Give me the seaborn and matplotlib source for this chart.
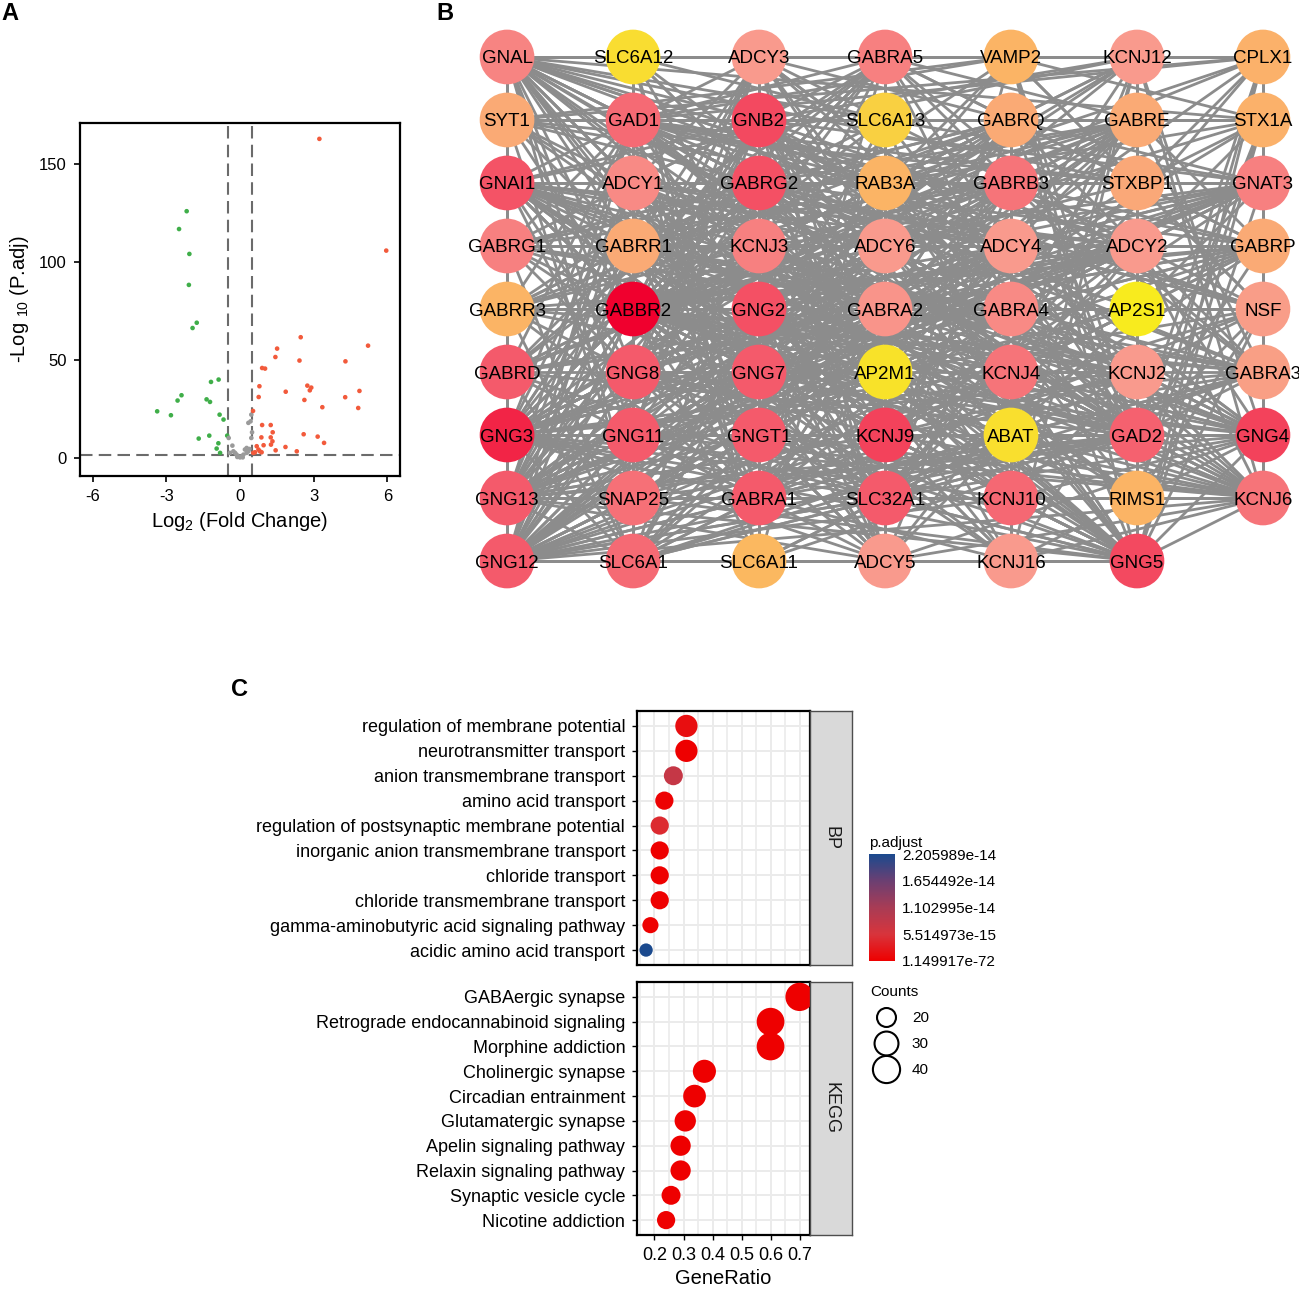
import numpy as np
import pandas as pd
import seaborn as sns
import matplotlib.pyplot as plt
from itertools import combinations
from matplotlib.colors import LinearSegmentedColormap, Normalize
from matplotlib.collections import LineCollection
from matplotlib.cm import ScalarMappable
from matplotlib.lines import Line2D

sns.set_theme(style="white")
plt.rcParams["font.family"] = ["Liberation Sans", "DejaVu Sans"]
plt.rcParams.update({
    "text.color": "black", "axes.labelcolor": "black",
    "xtick.color": "black", "ytick.color": "black",
    "axes.edgecolor": "black",
    "mathtext.fontset": "custom", "mathtext.rm": "Liberation Sans",
    "mathtext.it": "Liberation Sans:italic", "mathtext.default": "regular",
})

# ---------------- A: volcano data ----------------
down_lfc = [-2.17, -2.48, -2.06, -2.08, -1.76, -1.93, -0.87, -1.18, -2.38, -2.54, -1.36,
            -1.22, -3.37, -2.81, -0.83, -0.67, -1.25, -0.52, -1.68, -0.88, -0.95, -0.81]
down_p = [125.9, 116.8, 104.1, 88.3, 69.0, 66.3, 40.0, 38.8, 32.0, 29.3, 29.9,
          28.6, 23.8, 21.8, 22.1, 19.6, 11.4, 11.4, 9.9, 7.5, 4.8, 2.6]
up_lfc = [3.23, 5.95, 2.47, 5.21, 1.51, 1.44, 2.42, 4.29, 0.90, 1.02, 0.79, 2.74, 2.90, 2.84,
          1.86, 4.86, 0.76, 4.28, 2.62, 3.35, 4.81, 0.53, 0.90, 1.25, 1.33, 2.59, 0.87, 1.25,
          3.16, 1.32, 3.42, 0.96, 1.26, 1.85, 0.68, 1.45, 2.31, 0.75, 0.81, 0.61, 0.88, 0.54]
up_p = [162.8, 105.8, 61.6, 57.3, 55.8, 51.5, 49.7, 49.3, 45.9, 45.6, 36.6, 36.9, 35.9, 34.5,
        33.8, 34.2, 31.1, 31.0, 29.6, 25.9, 25.5, 24.0, 16.8, 16.8, 13.1, 12.1, 10.5, 10.5,
        10.9, 8.5, 7.7, 6.5, 6.8, 5.6, 6.0, 3.9, 3.4, 4.3, 3.4, 2.9, 2.9, 2.6]
ns_lfc = [0.46, 0.43, 0.34, 0.49, 0.46, -0.46, -0.31, 0.27, 0.20, 0.38, -0.20, -0.07, 0.0,
          0.07, 0.14, -0.14, -0.27, -0.41, 0.27, 0.34, -0.11, 0.11]
ns_p = [22.1, 18.7, 17.9, 13.1, 10.2, 10.2, 6.3, 5.1, 4.3, 4.6, 2.6, 0.9, 0.3,
        0.9, 1.7, 1.7, 3.4, 2.6, 2.6, 3.4, 0.5, 0.3]

# ---------------- B: network data ----------------
genes = ["GNAL", "SLC6A12", "ADCY3", "GABRA5", "VAMP2", "KCNJ12", "CPLX1",
         "SYT1", "GAD1", "GNB2", "SLC6A13", "GABRQ", "GABRE", "STX1A",
         "GNAI1", "ADCY1", "GABRG2", "RAB3A", "GABRB3", "STXBP1", "GNAT3",
         "GABRG1", "GABRR1", "KCNJ3", "ADCY6", "ADCY4", "ADCY2", "GABRP",
         "GABRR3", "GABBR2", "GNG2", "GABRA2", "GABRA4", "AP2S1", "NSF",
         "GABRD", "GNG8", "GNG7", "AP2M1", "KCNJ4", "KCNJ2", "GABRA3",
         "GNG3", "GNG11", "GNGT1", "KCNJ9", "ABAT", "GAD2", "GNG4",
         "GNG13", "SNAP25", "GABRA1", "SLC32A1", "KCNJ10", "RIMS1", "KCNJ6",
         "GNG12", "SLC6A1", "SLC6A11", "ADCY5", "KCNJ16", "GNG5"]
scores = [0.62, 0.08, 0.55, 0.63, 0.30, 0.55, 0.33,
          0.40, 0.70, 0.80, 0.15, 0.40, 0.40, 0.33,
          0.77, 0.60, 0.78, 0.30, 0.67, 0.42, 0.63,
          0.63, 0.40, 0.63, 0.55, 0.55, 0.55, 0.40,
          0.30, 1.00, 0.78, 0.57, 0.60, 0.00, 0.52,
          0.75, 0.75, 0.75, 0.05, 0.67, 0.55, 0.50,
          0.90, 0.75, 0.75, 0.82, 0.07, 0.73, 0.82,
          0.75, 0.68, 0.75, 0.75, 0.71, 0.30, 0.67,
          0.75, 0.70, 0.28, 0.55, 0.55, 0.80]
# interaction modules (every pair inside a module is an edge)
gprotein = ["GNAL", "GNB2", "GNAI1", "GNAT3", "GNG2", "GNG3", "GNG4", "GNG5", "GNG7", "GNG8",
            "GNG11", "GNG12", "GNG13", "GNGT1", "ADCY1", "ADCY2", "ADCY3", "ADCY4", "ADCY5",
            "ADCY6", "GABBR2", "KCNJ3", "KCNJ6", "KCNJ9"]
gaba_rec = ["GABRA1", "GABRA2", "GABRA3", "GABRA4", "GABRA5", "GABRB3", "GABRG1", "GABRG2",
            "GABRD", "GABRE", "GABRQ", "GABRP", "GABRR1", "GABRR3", "GABBR2", "GAD1", "GAD2",
            "SLC6A1", "SLC32A1", "GNG3", "GNG12", "GNG13"]
vesicle = ["SYT1", "VAMP2", "STX1A", "STXBP1", "SNAP25", "CPLX1", "RAB3A", "RIMS1", "NSF",
           "SLC32A1", "GAD1", "GAD2", "GABBR2", "GNG5", "GNAL"]
kir = ["KCNJ2", "KCNJ3", "KCNJ4", "KCNJ6", "KCNJ9", "KCNJ10", "KCNJ12", "KCNJ16", "GNB2",
       "GNG2", "GNG3", "GNG4", "GNG5", "GNG12", "GNAI1", "GABBR2"]
transport = ["SLC6A1", "SLC6A11", "SLC6A12", "SLC6A13", "ABAT", "GAD1", "GAD2", "SLC32A1",
             "GABRA1", "GABRG2", "GABBR2"]
endocytosis = ["AP2M1", "AP2S1", "GABRA1", "GABRB3", "GABRG2", "GABRA2", "NSF", "GABBR2"]
modules = [gprotein, gaba_rec, vesicle, kir, transport, endocytosis]

# ---------------- C: enrichment data ----------------
bp_terms = ["regulation of membrane potential", "neurotransmitter transport",
            "anion transmembrane transport", "amino acid transport",
            "regulation of postsynaptic membrane potential",
            "inorganic anion transmembrane transport", "chloride transport",
            "chloride transmembrane transport", "gamma-aminobutyric acid signaling pathway",
            "acidic amino acid transport"]
bp_ratio = [0.31, 0.31, 0.265, 0.234, 0.218, 0.218, 0.218, 0.218, 0.186, 0.171]
bp_count = [26, 26, 20, 19, 19, 19, 19, 19, 17, 16]
bp_padj = [1.5e-15, 1.0e-17, 7.7e-15, 3.0e-16, 4.4e-15, 1.0e-17, 1.0e-17, 1.0e-17,
           1.0e-16, 2.205989e-14]
kegg_terms = ["GABAergic synapse", "Retrograde endocannabinoid signaling", "Morphine addiction",
              "Cholinergic synapse", "Circadian entrainment", "Glutamatergic synapse",
              "Apelin signaling pathway", "Relaxin signaling pathway", "Synaptic vesicle cycle",
              "Nicotine addiction"]
kegg_ratio = [0.70, 0.60, 0.60, 0.372, 0.338, 0.306, 0.29, 0.29, 0.257, 0.24]
kegg_count = [44, 42, 42, 28, 27, 24, 22, 22, 20, 19]
kegg_padj = [1.149917e-72, 3.2e-40, 5.1e-39, 2.3e-20, 1.8e-18, 6.5e-18, 4.4e-17, 4.4e-17,
             2.1e-17, 1.5e-16]
legend_counts = [20, 30, 40]

# ---------------- figure ----------------
W, H = 1299, 1291
fig = plt.figure(figsize=(W / 100, H / 100), dpi=100)


def add_ax(l, t, r, b):
    return fig.add_axes([l / W, 1 - b / H, (r - l) / W, (b - t) / H])


# ---- A
axA = add_ax(80, 123, 400, 476)
vdf = pd.DataFrame({
    "lfc": down_lfc + ns_lfc + up_lfc,
    "p": down_p + ns_p + up_p,
    "grp": ["down"] * len(down_lfc) + ["ns"] * len(ns_lfc) + ["up"] * len(up_lfc),
})
sns.scatterplot(data=vdf, x="lfc", y="p", hue="grp",
                palette={"down": "#3FAE49", "ns": "#9A9A9A", "up": "#F25A3B"},
                s=11, linewidth=0, legend=False, ax=axA, zorder=3)
for xv in (-0.5, 0.5):
    axA.axvline(xv, color="#6B6B6B", lw=1.5, dashes=(6, 3), zorder=2)
axA.axhline(-np.log10(0.05), color="#6B6B6B", lw=1.5, dashes=(6, 3), zorder=2)
axA.set_xlim(-6.51, 6.51)
axA.set_ylim(-9.2, 170.9)
axA.set_xticks([-6, -3, 0, 3, 6])
axA.set_xticklabels(["-6", "-3", "0", "3", "6"])
axA.set_yticks([0, 50, 100, 150])
axA.tick_params(bottom=True, left=True, length=4.5, width=1.2, labelsize=12, pad=5)
for sp in axA.spines.values():
    sp.set_linewidth(1.6)
axA.set_xlabel(r"Log$_2$ (Fold Change)", fontsize=14.5, labelpad=4)
axA.set_ylabel(r"-Log $_{10}$ (P.adj)", fontsize=14.5, labelpad=6)

# ---- B
axB = add_ax(470, 20, 1300, 598)
pos = {g: (i % 7, i // 7) for i, g in enumerate(genes)}
edges = set()
for mod in modules:
    for a, b in combinations(mod, 2):
        edges.add(tuple(sorted((a, b))))
segs = [[pos[a], pos[b]] for a, b in sorted(edges)]
axB.add_collection(LineCollection(segs, colors="#8C8C8C", linewidths=2.0, zorder=1))
ndf = pd.DataFrame({"gene": genes, "score": scores,
                    "col": [pos[g][0] for g in genes], "row": [pos[g][1] for g in genes]})
node_cmap = LinearSegmentedColormap.from_list(
    "node", [(0, "#F8EB1E"), (0.3, "#FBB465"), (0.55, "#F99A8D"),
             (0.75, "#F45B6C"), (1.0, "#F0002E")])
sns.scatterplot(data=ndf, x="col", y="row", hue="score", palette=node_cmap,
                hue_norm=(0, 1), s=1550, linewidth=0, legend=False, ax=axB, zorder=2)
for g, (cx, cy) in pos.items():
    axB.text(cx, cy, g, ha="center", va="center_baseline", fontsize=13.5, zorder=3)
axB.set_xlim(-0.294, 6.294)
axB.set_ylim(8.587, -0.587)
axB.axis("off")

# ---- C
p_all = bp_padj + kegg_padj
pmin, pmax = min(p_all), max(p_all)
p_cmap = LinearSegmentedColormap.from_list(
    "padj", [(0, "#EE0000"), (0.25, "#D8343C"), (0.5, "#A83C55"),
             (0.75, "#6B3F72"), (1, "#1B4A8E")])
c_all = bp_count + kegg_count
cmin, cmax = min(c_all), max(c_all)


def dot_area(c):
    d_px = 13.3 + 15.0 * np.sqrt((np.asarray(c, float) - cmin) / (cmax - cmin))
    return (d_px * 0.72) ** 2


amin, amax = dot_area(cmin), dot_area(cmax)

facets = [("BP", bp_terms, bp_ratio, bp_count, bp_padj, 711, 965),
          ("KEGG", kegg_terms, kegg_ratio, kegg_count, kegg_padj, 982, 1235)]
for name, terms, ratio, count, padj, top, bot in facets:
    ax = add_ax(637, top, 810, bot)
    df = pd.DataFrame({"term": terms, "ratio": ratio, "padj": padj,
                       "area": dot_area(count)})
    sns.scatterplot(data=df, x="ratio", y="term", hue="padj", palette=p_cmap,
                    hue_norm=(pmin, pmax), size="area", sizes=(amin, amax),
                    size_norm=(amin, amax), linewidth=0, legend=False, ax=ax, zorder=3)
    ax.set_xlim(0.1397, 0.736)
    ax.set_ylim(len(terms) - 0.4, -0.6)
    ax.set_xticks([0.2, 0.3, 0.4, 0.5, 0.6, 0.7])
    ax.set_xticks([0.15, 0.25, 0.35, 0.45, 0.55, 0.65], minor=True)
    ax.set_axisbelow(True)
    ax.grid(which="major", color="#EBEBEB", lw=1.4)
    ax.grid(which="minor", axis="x", color="#EBEBEB", lw=1.2)
    ax.tick_params(left=True, length=3.5, width=1.0, labelsize=13, pad=5)
    ax.tick_params(which="minor", bottom=False)
    for sp in ax.spines.values():
        sp.set_linewidth(1.6)
    ax.set_ylabel("")
    if name == "KEGG":
        ax.tick_params(bottom=True)
        ax.set_xticklabels(["0.2", "0.3", "0.4", "0.5", "0.6", "0.7"])
        ax.set_xlabel("GeneRatio", fontsize=14.5, labelpad=4)
    else:
        ax.tick_params(bottom=False, labelbottom=False)
        ax.set_xlabel("")
    sax = add_ax(810, top, 852, bot)
    sax.set_facecolor("#D9D9D9")
    sax.set_xticks([])
    sax.set_yticks([])
    for sp in sax.spines.values():
        sp.set_color("#4D4D4D")
        sp.set_linewidth(1.0)
    sax.text(0.5, 0.5, name, rotation=-90, ha="center", va="center",
             fontsize=13, color="#1A1A1A", transform=sax.transAxes)

# colour bar
cax = add_ax(869, 854, 895, 961)
cb = fig.colorbar(ScalarMappable(norm=Normalize(pmin, pmax), cmap=p_cmap), cax=cax)
cb.outline.set_visible(False)
ticks = np.linspace(pmin, pmax, 5)
cb.set_ticks(ticks)
cb.set_ticklabels(["{:.6e}".format(t) for t in ticks])
cax.tick_params(direction="in", length=4, width=1, color="white", left=True, right=True,
                labelsize=11, pad=5)
fig.text(869 / W, 1 - 843 / H, "p.adjust", fontsize=11, ha="left", va="center")

# size legend
handles = [Line2D([], [], marker="o", linestyle="", markerfacecolor="none",
                  markeredgecolor="black", markeredgewidth=1.5,
                  markersize=float(np.sqrt(dot_area(c)))) for c in legend_counts]
leg = fig.legend(handles, [str(c) for c in legend_counts], title="Counts",
                 loc="upper left", bbox_to_anchor=(860 / W, 1 - 974 / H),
                 frameon=False, fontsize=11, title_fontsize=11,
                 handletextpad=0.7, labelspacing=0.8, borderpad=0.2)
leg._legend_box.align = "left"

# panel labels
for lab, x, y in [("A", 10, 14), ("B", 445, 14), ("C", 239, 690)]:
    fig.text(x / W, 1 - y / H, lab, fontsize=17, fontweight="bold", ha="center", va="center")

fig.savefig("out.png", dpi=100)
